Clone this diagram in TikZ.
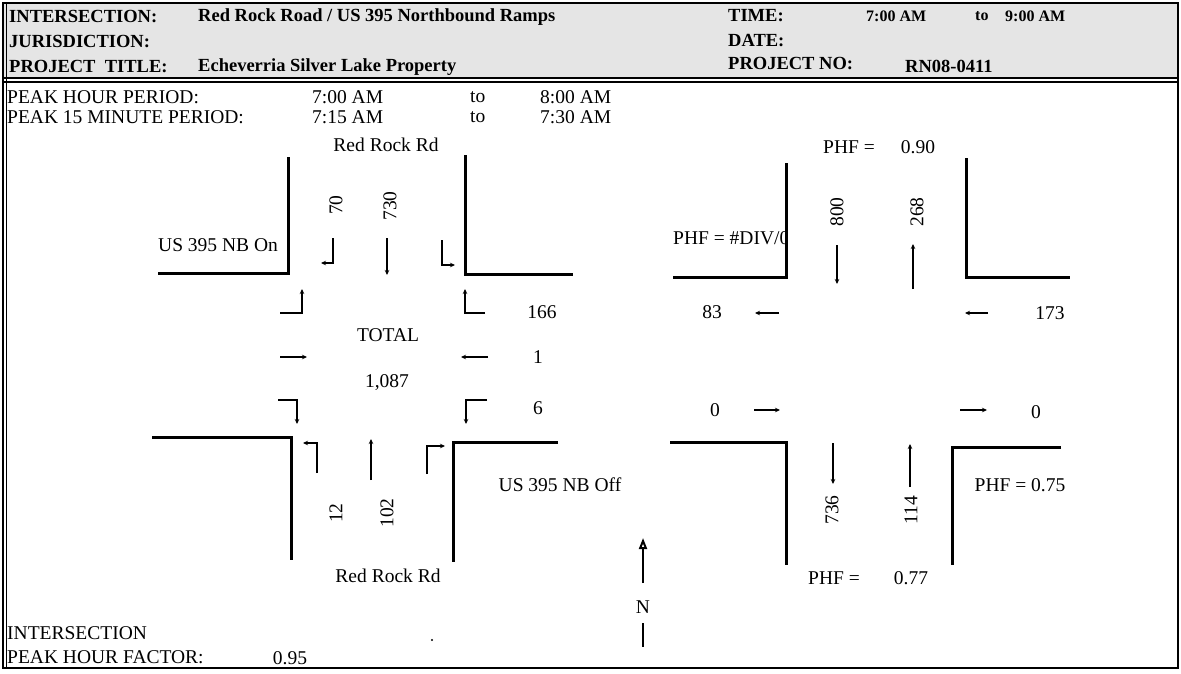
\documentclass[tikz,border=0pt]{standalone}
\usepackage{fontspec}
\setmainfont{Liberation Serif}
\usetikzlibrary{arrows.meta}

\tikzset{
  curb/.style={line width=3pt},
  mv/.style={line width=1.2pt,-{Stealth[length=5pt,width=4.5pt]}},
  lbl/.style={inner sep=0pt,font=\fontsize{19.5}{21}\selectfont},
  hd/.style={inner sep=0pt,anchor=west,font=\fontsize{18.5}{20}\selectfont\bfseries},
  hdsmall/.style={inner sep=0pt,anchor=west,font=\fontsize{16}{18}\selectfont\bfseries},
}

\begin{document}
\begin{tikzpicture}[x=1pt,y=-1pt]
\useasboundingbox (0,0) rectangle (1181,673);
\fill[black!10] (3,3) rectangle (1178,79);
\draw[line width=2pt] (3,3) rectangle (1178,668);
\draw[line width=1.2pt] (3,78) -- (1178,78);
\draw[line width=1.2pt] (3,82) -- (1178,82);
\draw[line width=1pt] (6,3) -- (6,668);

\node[hd] (hint) at (9,17) {INTERSECTION:};
\node[hd] (hname) at (198,17) {Red Rock Road / US 395 Northbound Ramps};
\node[hd] (hjur) at (9,42) {JURISDICTION:};
\node[hd] (hproj) at (9,67) {PROJECT\ \ TITLE:};
\node[hd] (hpname) at (198,67) {Echeverria Silver Lake Property};
\node[hd] (htime) at (728,16) {TIME:};
\node[hdsmall] (htfrom) at (866,16) {7:00 AM};
\node[hdsmall] (htto) at (975,16) {to};
\node[hdsmall] (htend) at (1005,16) {9:00 AM};
\node[hd] (hdate) at (728,41) {DATE:};
\node[hd] (hno) at (728,64) {PROJECT NO:};
\node[hd] (hnum) at (905,66) {RN08-0411};

\node[lbl,anchor=west] (pk) at (7,97) {PEAK HOUR PERIOD:};
\node[lbl,anchor=west] (pkfrom) at (312,97) {7:00 AM};
\node[lbl,anchor=west] (pkto) at (470,97) {to};
\node[lbl,anchor=west] (pkend) at (540,97) {8:00 AM};
\node[lbl,anchor=west] (pq) at (7,117) {PEAK 15 MINUTE PERIOD:};
\node[lbl,anchor=west] (pqfrom) at (312,117) {7:15 AM};
\node[lbl,anchor=west] (pqto) at (470,117) {to};
\node[lbl,anchor=west] (pqend) at (540,117) {7:30 AM};

\draw[curb] (288,157) -- (288,273) -- (158,273);
\draw[curb] (465,155) -- (465,274) -- (573,274);
\draw[curb] (152,437) -- (291,437) -- (291,560);
\draw[curb] (558,442) -- (453,442) -- (453,562);

\node[lbl] (rrn) at (386,145) {Red Rock Rd};
\node[lbl,anchor=west] (onramp) at (158,245) {US 395 NB On};
\node[lbl,rotate=90] (sbl) at (336,205) {70};
\node[lbl,rotate=90] (sbt) at (390,206) {730};
\draw[mv] (333,238) -- (333,263) -- (321,263);
\draw[mv] (387,238) -- (387,275);
\draw[mv] (442,240) -- (442,265) -- (455,265);

\draw[mv] (280,313) -- (302,313) -- (302,289);
\draw[mv] (485,313) -- (465,313) -- (465,289);
\node[lbl] (wbr) at (542,312) {166};
\node[lbl] (total) at (388,335) {TOTAL};
\draw[mv] (280,357) -- (307,357);
\draw[mv] (488,357) -- (461,357);
\node[lbl] (wbt) at (538,357) {1};
\node[lbl] (tsum) at (387,383) {1,087};
\draw[mv] (278,400) -- (297,400) -- (297,424);
\draw[mv] (487,400) -- (466,400) -- (466,424);
\node[lbl] (wbl) at (538,408) {6};

\draw[mv] (317,473) -- (317,443) -- (303,443);
\draw[mv] (371,480) -- (371,439);
\draw[mv] (427,474) -- (427,446) -- (445,446);
\node[lbl,rotate=90] (nbl) at (336,513) {12};
\node[lbl,rotate=90] (nbt) at (387,513) {102};
\node[lbl] (offramp) at (560,485) {US 395 NB Off};
\node[lbl] (rrs) at (388,576) {Red Rock Rd};

\node[lbl,anchor=west] (phfw) at (673,238) {PHF = \#DIV/0};
\fill[white] (787,225) rectangle (800,252);
\draw[curb] (786,163) -- (786,277) -- (673,277);
\draw[curb] (966,158) -- (966,277) -- (1070,277);
\draw[curb] (670,442) -- (786,442) -- (786,565);
\draw[curb] (1061,447) -- (952,447) -- (952,565);

\node[lbl] (phfn) at (849,147) {PHF =};
\node[lbl] (phfnv) at (918,147) {0.90};
\node[lbl,rotate=90] (legs) at (837,212) {800};
\node[lbl,rotate=90] (legn) at (917,212) {268};
\draw[mv] (837,245) -- (837,284);
\draw[mv] (913,289) -- (913,244);
\node[lbl] (legw) at (712,312) {83};
\draw[mv] (779,313) -- (755,313);
\draw[mv] (988,313) -- (965,313);
\node[lbl] (lege) at (1050,313) {173};
\node[lbl] (legwin) at (715,410) {0};
\draw[mv] (754,410) -- (780,410);
\draw[mv] (960,410) -- (987,410);
\node[lbl] (legeout) at (1036,412) {0};
\draw[mv] (833,443) -- (833,484);
\draw[mv] (910,487) -- (910,444);
\node[lbl] (phfe) at (1020,485) {PHF = 0.75};
\node[lbl,rotate=90] (legsin) at (832,510) {736};
\node[lbl,rotate=90] (legsout) at (911,510) {114};
\node[lbl] (phfs) at (834,578) {PHF =};
\node[lbl] (phfsv) at (911,578) {0.77};

\coordinate (ntail) at (643,583);
\coordinate (nhead) at (643,538);
\draw[line width=2pt,-{Triangle[open,length=11pt,width=8pt]}] (ntail) -- (nhead);
\node[lbl] (north) at (643,607) {N};
\draw[line width=2pt] (643,623) -- (643,647);

\node[lbl,anchor=west] (ipk) at (7,633) {INTERSECTION};
\node[lbl,anchor=west] (ipkf) at (7,657) {PEAK HOUR FACTOR:};
\node[lbl] (ipkv) at (290,658) {0.95};
\fill (432,640) circle (1.2pt);
\end{tikzpicture}
\end{document}
